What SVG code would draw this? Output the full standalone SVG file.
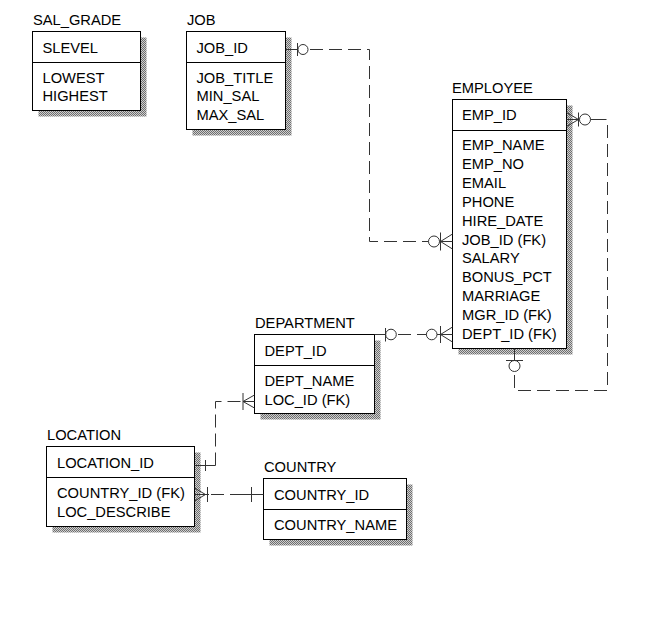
<svg xmlns="http://www.w3.org/2000/svg" width="668" height="637" viewBox="0 0 668 637">
<defs>
<pattern id="dither" width="2" height="2" patternUnits="userSpaceOnUse">
<rect width="2" height="2" fill="#cfcfcf"/>
<rect width="1" height="1" fill="#6e6e6e"/>
<rect x="1" y="1" width="1" height="1" fill="#6e6e6e"/>
</pattern>
</defs>
<style>
text{font-family:"Liberation Sans",Arial,sans-serif;font-size:14.7px;fill:#000}
.box{fill:#fff;stroke:#000;stroke-width:1}
.sh{fill:url(#dither)}
.div{stroke:#000;stroke-width:1}
.c{fill:none;stroke:#333;stroke-width:1}
.d{fill:none;stroke:#333;stroke-width:1;stroke-dasharray:13 6}
</style>
<rect width="668" height="637" fill="#fff"/>

<g id="SAL_GRADE">
<text x="33" y="25">SAL_GRADE</text>
<rect class="sh" x="38.5" y="37.5" width="108" height="79"/>
<rect class="box" x="32.5" y="31.5" width="108" height="79"/>
<line class="div" x1="32.5" y1="62.5" x2="140.5" y2="62.5"/>
<text x="42.5" y="52.5">SLEVEL</text>
<text x="42.5" y="82.5">LOWEST</text>
<text x="42.5" y="101">HIGHEST</text>
</g>

<g id="JOB">
<text x="187" y="25">JOB</text>
<rect class="sh" x="192.5" y="37.5" width="99" height="98"/>
<rect class="box" x="186.5" y="31.5" width="99" height="98"/>
<line class="div" x1="186.5" y1="62.5" x2="285.5" y2="62.5"/>
<text x="196.5" y="52.5">JOB_ID</text>
<text x="196.5" y="82.5">JOB_TITLE</text>
<text x="196.5" y="101">MIN_SAL</text>
<text x="196.5" y="120">MAX_SAL</text>
</g>

<g id="EMPLOYEE">
<text x="452" y="92.5">EMPLOYEE</text>
<rect class="sh" x="458.5" y="105.5" width="114" height="249"/>
<rect class="box" x="452.5" y="99.5" width="114" height="249"/>
<line class="div" x1="452.5" y1="130.5" x2="566.5" y2="130.5"/>
<text x="462" y="120">EMP_ID</text>
<text x="462" y="150">EMP_NAME</text>
<text x="462" y="168.9">EMP_NO</text>
<text x="462" y="187.8">EMAIL</text>
<text x="462" y="206.7">PHONE</text>
<text x="462" y="225.6">HIRE_DATE</text>
<text x="462" y="244.5">JOB_ID (FK)</text>
<text x="462" y="263.4">SALARY</text>
<text x="462" y="282.3">BONUS_PCT</text>
<text x="462" y="301.2">MARRIAGE</text>
<text x="462" y="320.1">MGR_ID (FK)</text>
<text x="462" y="339">DEPT_ID (FK)</text>
</g>

<g id="DEPARTMENT">
<text x="255" y="328">DEPARTMENT</text>
<rect class="sh" x="260.5" y="340.5" width="120" height="79"/>
<rect class="box" x="254.5" y="334.5" width="120" height="79"/>
<line class="div" x1="254.5" y1="365.5" x2="374.5" y2="365.5"/>
<text x="264.5" y="356">DEPT_ID</text>
<text x="264.5" y="386">DEPT_NAME</text>
<text x="264.5" y="405">LOC_ID (FK)</text>
</g>

<g id="LOCATION">
<text x="47" y="440">LOCATION</text>
<rect class="sh" x="52.5" y="452.5" width="148" height="80"/>
<rect class="box" x="46.5" y="446.5" width="148" height="80"/>
<line class="div" x1="46.5" y1="477.5" x2="194.5" y2="477.5"/>
<text x="57" y="467.5">LOCATION_ID</text>
<text x="57" y="497.5">COUNTRY_ID (FK)</text>
<text x="57" y="516.5">LOC_DESCRIBE</text>
</g>

<g id="COUNTRY">
<text x="264" y="472">COUNTRY</text>
<rect class="sh" x="269.5" y="484.5" width="143" height="61"/>
<rect class="box" x="263.5" y="478.5" width="143" height="61"/>
<line class="div" x1="263.5" y1="509.5" x2="406.5" y2="509.5"/>
<text x="274" y="499.5">COUNTRY_ID</text>
<text x="274" y="530">COUNTRY_NAME</text>
</g>

<g id="connectors">
<!-- JOB -> EMPLOYEE.JOB_ID -->
<line class="c" x1="285.5" y1="49.5" x2="297.5" y2="49.5"/>
<line class="c" x1="297.5" y1="43" x2="297.5" y2="56"/>
<circle class="c" cx="303" cy="49.5" r="5"/>
<path class="d" d="M310 49.5 H369.5 V241.5 H428.5"/>
<circle class="c" cx="434" cy="241.5" r="5.5"/>
<line class="c" x1="440.5" y1="232.5" x2="440.5" y2="250.5"/>
<path class="c" d="M439.5 241.5 H452.5 M440.5 241.5 L452.5 234 M440.5 241.5 L452.5 249"/>

<!-- DEPARTMENT -> EMPLOYEE.DEPT_ID -->
<line class="c" x1="374.5" y1="334.5" x2="385.5" y2="334.5"/>
<line class="c" x1="385.5" y1="328" x2="385.5" y2="341.5"/>
<circle class="c" cx="391" cy="334.5" r="5.3"/>
<path class="d" d="M398 334.5 H426.5"/>
<circle class="c" cx="431.7" cy="334.5" r="5.3"/>
<line class="c" x1="440.5" y1="326" x2="440.5" y2="343"/>
<path class="c" d="M437 334.5 H452.5 M440.5 334.5 L452.5 327 M440.5 334.5 L452.5 342"/>

<!-- EMPLOYEE recursive (MGR_ID) -->
<path class="c" d="M566.5 112.5 L578.5 119.5 M566.5 126.5 L578.5 119.5 M566.5 119.5 H579.5"/>
<line class="c" x1="578.5" y1="112.5" x2="578.5" y2="126.5"/>
<circle class="c" cx="585" cy="119.5" r="5.5"/>
<line class="c" x1="590.5" y1="119.5" x2="606.5" y2="119.5"/>
<path class="d" d="M607.5 125 V390.5 H514.5 V371.5"/>
<circle class="c" cx="514.5" cy="366" r="5.5"/>
<line class="c" x1="506" y1="360.5" x2="523" y2="360.5"/>
<line class="c" x1="514.5" y1="348.5" x2="514.5" y2="360.5"/>

<!-- LOCATION -> DEPARTMENT.LOC_ID -->
<line class="c" x1="194.5" y1="465.5" x2="215.5" y2="465.5"/>
<line class="c" x1="205.5" y1="460" x2="205.5" y2="471"/>
<path class="d" d="M215.5 465.5 V401.5 H243"/>
<line class="c" x1="243" y1="393" x2="243" y2="410"/>
<path class="c" d="M243 401.5 H254.5 M243 401.5 L254.5 395 M243 401.5 L254.5 408"/>

<!-- LOCATION.COUNTRY_ID -> COUNTRY -->
<path class="c" d="M194.5 488 L205.5 494.5 M194.5 501 L205.5 494.5 M194.5 494.5 H209"/>
<line class="c" x1="207.5" y1="487" x2="207.5" y2="502"/>
<path class="d" d="M211 494.5 H245"/>
<line class="c" x1="243" y1="494.5" x2="263.5" y2="494.5"/>
<line class="c" x1="251.5" y1="487" x2="251.5" y2="502"/>
</g>
</svg>
